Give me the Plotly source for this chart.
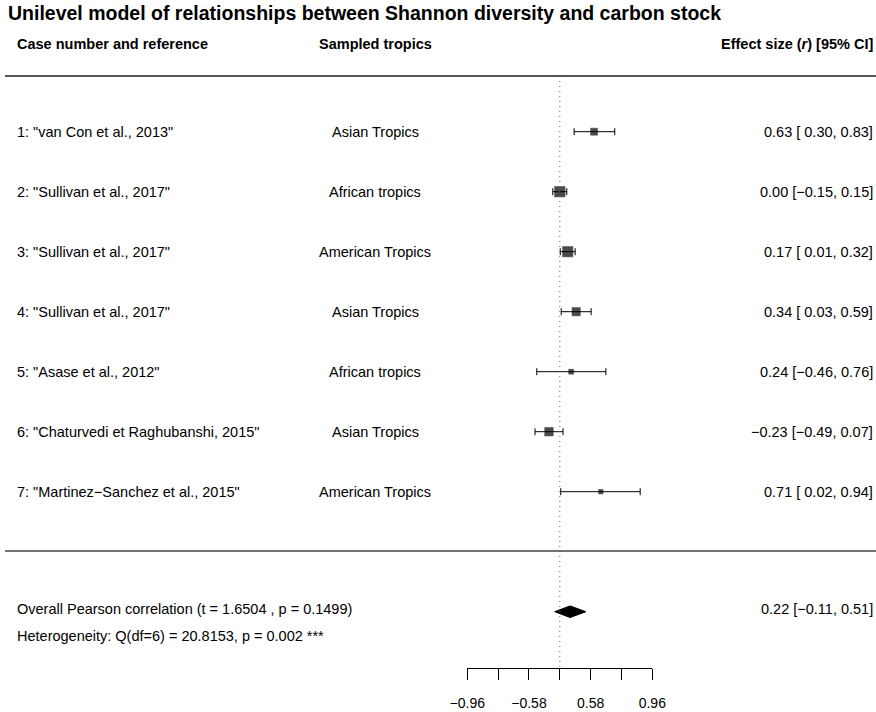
import numpy as np
import plotly.graph_objects as go

# ---------------- data ----------------
studies = ['1: "van Con et al., 2013"', '2: "Sullivan et al., 2017"', '3: "Sullivan et al., 2017"',
           '4: "Sullivan et al., 2017"', '5: "Asase et al., 2012"',
           '6: "Chaturvedi et Raghubanshi, 2015"', '7: "Martinez\u2212Sanchez et al., 2015"']
tropics = ["Asian Tropics", "African tropics", "American Tropics", "Asian Tropics",
           "African tropics", "Asian Tropics", "American Tropics"]
r_est = [0.63, 0.00, 0.17, 0.34, 0.24, -0.23, 0.71]
r_lo = [0.30, -0.15, 0.01, 0.03, -0.46, -0.49, 0.02]
r_hi = [0.83, 0.15, 0.32, 0.59, 0.76, 0.07, 0.94]
weights_pct = [12.3, 22.1, 21.7, 15.9, 6.3, 16.6, 5.0]
overall = {"est": 0.22, "lo": -0.11, "hi": 0.51}
overall_text = "Overall Pearson correlation (t = 1.6504 , p = 0.1499)"
het_text = "Heterogeneity: Q(df=6) = 20.8153, p = 0.002 ***"
title = "Unilevel model of relationships between Shannon diversity and carbon stock"
headers = ["Case number and reference", "Sampled tropics", "Effect size (<i>r</i>) [95% CI]"]
tick_z = [-2, -4/3, -2/3, 0, 2/3, 4/3, 2]
tick_labels = ["\u22120.96", "", "\u22120.58", "", "0.58", "", "0.96"]

W, H = 876, 712
FONT = "Liberation Sans, Arial, Helvetica, sans-serif"

def px(x):
    return x / W

def py(y):
    return 1 - y / H

def fmt(v):
    return f"{v:.2f}".replace("-", "\u2212")

def fmt_pad(v):
    s = f"{v:.2f}"
    if v >= 0:
        s = "\u00a0" + s
    return s.replace("-", "\u2212")

k = len(studies)
rows = [k - i for i in range(k)]  # study 1 at top
z_est = np.arctanh(r_est)
z_lo = np.arctanh(r_lo)
z_hi = np.arctanh(r_hi)
wmin, wmax = min(weights_pct), max(weights_pct)
sizes = [4.5 + 6 * (w - wmin) / (wmax - wmin) for w in weights_pct]

fig = go.Figure()
fig.add_trace(go.Scatter(
    x=z_est, y=rows, mode="markers",
    marker=dict(symbol="square", size=sizes, color="black", line=dict(width=0.5, color="black")),
    error_x=dict(type="data", symmetric=False, array=z_hi - z_est, arrayminus=z_est - z_lo,
                 color="black", thickness=1, width=3.5),
    cliponaxis=False, showlegend=False, hoverinfo="skip"))

# overall diamond
ze, zl, zh = np.arctanh(overall["est"]), np.arctanh(overall["lo"]), np.arctanh(overall["hi"])
hd = 0.097
fig.add_trace(go.Scatter(
    x=[zl, ze, zh, ze, zl], y=[-1, -1 + hd, -1, -1 - hd, -1], mode="lines",
    fill="toself", fillcolor="black", line=dict(color="black", width=1),
    cliponaxis=False, showlegend=False, hoverinfo="skip"))

ann = []
FS = 14.5
LX, RX = 15, 875
tf = dict(family=FONT, size=FS, color="black")
ann.append(dict(x=px(6), y=py(13), xref="paper", yref="paper", text="<b>" + title + "</b>",
                showarrow=False, xanchor="left", yanchor="middle",
                font=dict(family=FONT, size=19.5, color="black")))
ann.append(dict(x=px(LX), y=py(44), xref="paper", yref="paper", text="<b>" + headers[0] + "</b>",
                showarrow=False, xanchor="left", yanchor="middle", font=tf))
ann.append(dict(x=px(375), y=py(44), xref="paper", yref="paper", text="<b>" + headers[1] + "</b>",
                showarrow=False, xanchor="center", yanchor="middle", font=tf))
ann.append(dict(x=px(RX), y=py(44), xref="paper", yref="paper", text="<b>" + headers[2] + "</b>",
                showarrow=False, xanchor="right", yanchor="middle", font=tf))
for i in range(k):
    ann.append(dict(x=px(LX), y=rows[i], xref="paper", yref="y", text=studies[i],
                    showarrow=False, xanchor="left", yanchor="middle", font=tf))
    ann.append(dict(x=px(375), y=rows[i], xref="paper", yref="y", text=tropics[i],
                    showarrow=False, xanchor="center", yanchor="middle", font=tf))
    ann.append(dict(x=px(RX), y=rows[i], xref="paper", yref="y",
                    text=f"{fmt(r_est[i])} [{fmt_pad(r_lo[i])}, {fmt(r_hi[i])}]",
                    showarrow=False, xanchor="right", yanchor="middle", font=tf))
ann.append(dict(x=px(LX), y=py(609), xref="paper", yref="paper", text=overall_text,
                showarrow=False, xanchor="left", yanchor="middle", font=tf))
ann.append(dict(x=px(RX), y=py(609), xref="paper", yref="paper",
                text=f"{fmt(overall['est'])} [{fmt_pad(overall['lo'])}, {fmt(overall['hi'])}]",
                showarrow=False, xanchor="right", yanchor="middle", font=tf))
ann.append(dict(x=px(LX), y=py(636), xref="paper", yref="paper", text=het_text,
                showarrow=False, xanchor="left", yanchor="middle", font=tf))

shapes = [
    dict(type="line", xref="paper", yref="paper", x0=px(5), x1=1, y0=py(76), y1=py(76),
         line=dict(color="#555555", width=2)),
    dict(type="line", xref="paper", yref="paper", x0=px(5), x1=1, y0=py(551), y1=py(551),
         line=dict(color="#444444", width=1.5)),
    dict(type="line", xref="x", yref="paper", x0=0, x1=0, y0=py(76), y1=py(667.5),
         line=dict(color="#666666", width=1, dash="1px,4px")),
]

fig.update_layout(
    width=W, height=H, margin=dict(l=0, r=0, t=0, b=0, autoexpand=False),
    paper_bgcolor="white", plot_bgcolor="rgba(0,0,0,0)",
    annotations=ann, shapes=shapes,
    xaxis=dict(domain=[467.3 / W, 652.3 / W], range=[-2, 2], anchor="free", position=py(667.5),
               showgrid=False, zeroline=False, showline=True, linecolor="black", linewidth=1,
               ticks="outside", ticklen=11, tickwidth=1, tickcolor="black",
               tickvals=tick_z, ticktext=tick_labels, ticklabelstandoff=12, automargin=False,
               tickfont=dict(family=FONT, size=14, color="black")),
    yaxis=dict(domain=[0, 1], range=[7 - (H - 131.7) / 60, 7 + 131.7 / 60], visible=False,
               automargin=False),
)
fig.write_html("out.html")
